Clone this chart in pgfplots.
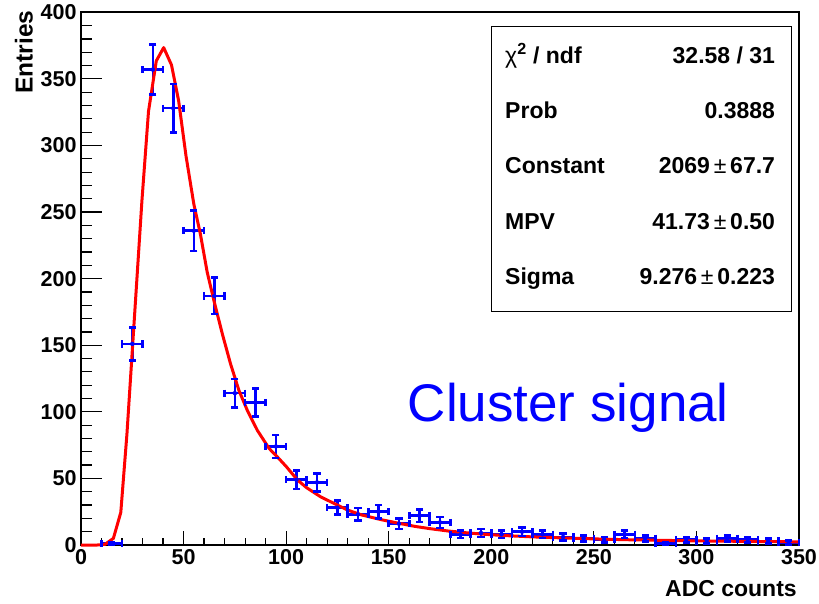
\documentclass[border=0pt]{standalone}
\usepackage{pgfplots}
\usepackage{pgfplotstable}
\pgfplotsset{compat=1.18}
\usepackage{fontspec}
\setmainfont{Liberation Sans}
\definecolor{rootblue}{RGB}{0,0,255}
\definecolor{rootred}{RGB}{255,0,0}
\pgfplotstableread{
x y e
15 1 1
25 151 12.29
35 357 18.89
45 328 18.11
55 236 15.36
65 187 13.67
75 114 10.68
85 107 10.34
95 74 8.60
105 49 7.00
115 47 6.86
125 28 5.29
135 23 4.80
145 25 5.00
155 16 4.00
165 22 4.69
175 17 4.12
185 8 2.83
195 9 3.00
205 8 2.83
215 10 3.16
225 8 2.83
235 6 2.45
245 5 2.24
255 4 2.00
265 8 2.83
275 5 2.24
285 1 1.00
295 4 2.00
305 3 1.73
315 5 2.24
325 4 2.00
335 3 1.73
345 2 1.41
}\hist
\begin{document}
\begin{tikzpicture}
\path[use as bounding box] (0,0) rectangle (819pt,603pt);
\pgfplotsset{
  common/.style={
    at={(81pt,58pt)}, anchor=south west,
    scale only axis, width=718pt, height=532.7pt,
    xmin=0, xmax=350, ymin=0, ymax=400,
    axis line style={line width=1.6pt, black},
    tick align=inside, xtick pos=bottom, ytick pos=left,
    tick style={line width=1.2pt, black},
    /pgf/number format/assume math mode=true,
    ticklabel style={font=\fontsize{21.5}{21.5}\selectfont\bfseries},
    clip=false,
  }
}
% Axis with y ticks (longer)
\begin{axis}[common,
  xtick=\empty,
  ytick={0,50,...,400}, minor y tick num=4,
  major tick length=21pt, minor tick length=11pt,
  yticklabel style={xshift=-1pt},
]
\end{axis}
% Main axis
\begin{axis}[common,
  ytick=\empty,
  xtick={0,50,...,350}, minor x tick num=4,
  major tick length=14pt, minor tick length=7pt,
  xticklabel style={yshift=-1pt},
]
\addplot[only marks, mark=none, rootblue,
  error bars/.cd, x dir=both, x explicit, y dir=both, y explicit,
  error mark=none,
  error bar style={line width=2.6pt, rootblue}]
  table[x=x, y=y, x error expr=5, y error=e] {\hist};
% error-bar end caps
\addplot[only marks, mark=-, mark size=3.6pt, rootblue, mark options={line width=2.6pt, solid}]
  table[x=x, y expr=\thisrow{y}+\thisrow{e}] {\hist};
\addplot[only marks, mark=-, mark size=3.6pt, rootblue, mark options={line width=2.6pt, solid}]
  table[x=x, y expr=\thisrow{y}-\thisrow{e}] {\hist};
\addplot[only marks, mark=|, mark size=3.6pt, rootblue, mark options={line width=2.6pt, solid}]
  table[x expr=\thisrow{x}-5, y=y] {\hist};
\addplot[only marks, mark=|, mark size=3.6pt, rootblue, mark options={line width=2.6pt, solid}]
  table[x expr=\thisrow{x}+5, y=y] {\hist};
\addplot[rootred, line width=3pt, line join=round] coordinates {
(0,0) (8,0) (11.7,0.5) (15.8,5) (19.4,24.5) (22.4,83.5) (24.8,141)
(29.7,258.5) (32.9,325.5) (36.7,363.5) (40.3,373.5) (44.1,360.5)
(47.6,333.5) (51.2,292) (55.0,256) (58.2,233.5) (61.5,205) (64.8,183.5)
(68.9,158.5) (72.9,136) (77.0,116) (81.1,101) (86.0,86) (91.7,72.5)
(95.8,66) (100,59) (105.6,48.7) (110,43) (117,36) (123,31.5) (130,26.2)
(137,22.5) (146.4,19) (155,16.3) (162.7,14) (170,12.3) (179,10.5)
(187,9.3) (195.3,8.2) (205,7.2) (220,6.1) (235,5.3) (250,4.6) (265,4.0)
(283,3.5) (300,3.1) (325,2.7) (350,2.4)
};
% stats box
\draw[line width=1.2pt, black] (axis cs:200.2,175.2) rectangle (axis cs:346.5,389.1);
\begin{scope}[font=\fontsize{23}{23}\selectfont\bfseries, inner sep=0pt]
\node[anchor=base west] at (axis cs:206.7,361.5) {{\mdseries χ}\textsuperscript{2} / ndf};
\node[anchor=base east] at (axis cs:338.4,361.5) {32.58 / 31};
\node[anchor=base west] at (axis cs:206.7,320.6) {Prob};
\node[anchor=base east] at (axis cs:338.4,320.6) {0.3888};
\node[anchor=base west] at (axis cs:206.7,279.0) {Constant};
\node[anchor=base east] at (axis cs:338.4,279.0) {2069\,{\mdseries ±}\,67.7};
\node[anchor=base west] at (axis cs:206.7,237.2) {MPV};
\node[anchor=base east] at (axis cs:338.4,237.2) {41.73\,{\mdseries ±}\,0.50};
\node[anchor=base west] at (axis cs:206.7,195.8) {Sigma};
\node[anchor=base east] at (axis cs:338.4,195.8) {9.276\,{\mdseries ±}\,0.223};
\end{scope}
\node[anchor=base west, inner sep=0pt, text=rootblue, font=\fontsize{53}{53}\selectfont] at (axis cs:159.2,93) {Cluster signal};
\node[anchor=base east, inner sep=0pt, font=\fontsize{23}{23}\selectfont\bfseries] at (axis cs:349,-39) {ADC counts};
\node[anchor=base east, inner sep=0pt, rotate=90, font=\fontsize{24.5}{24.5}\selectfont\bfseries] at (axis cs:-23.6,401.5) {Entries};
\end{axis}
\end{tikzpicture}
\end{document}
